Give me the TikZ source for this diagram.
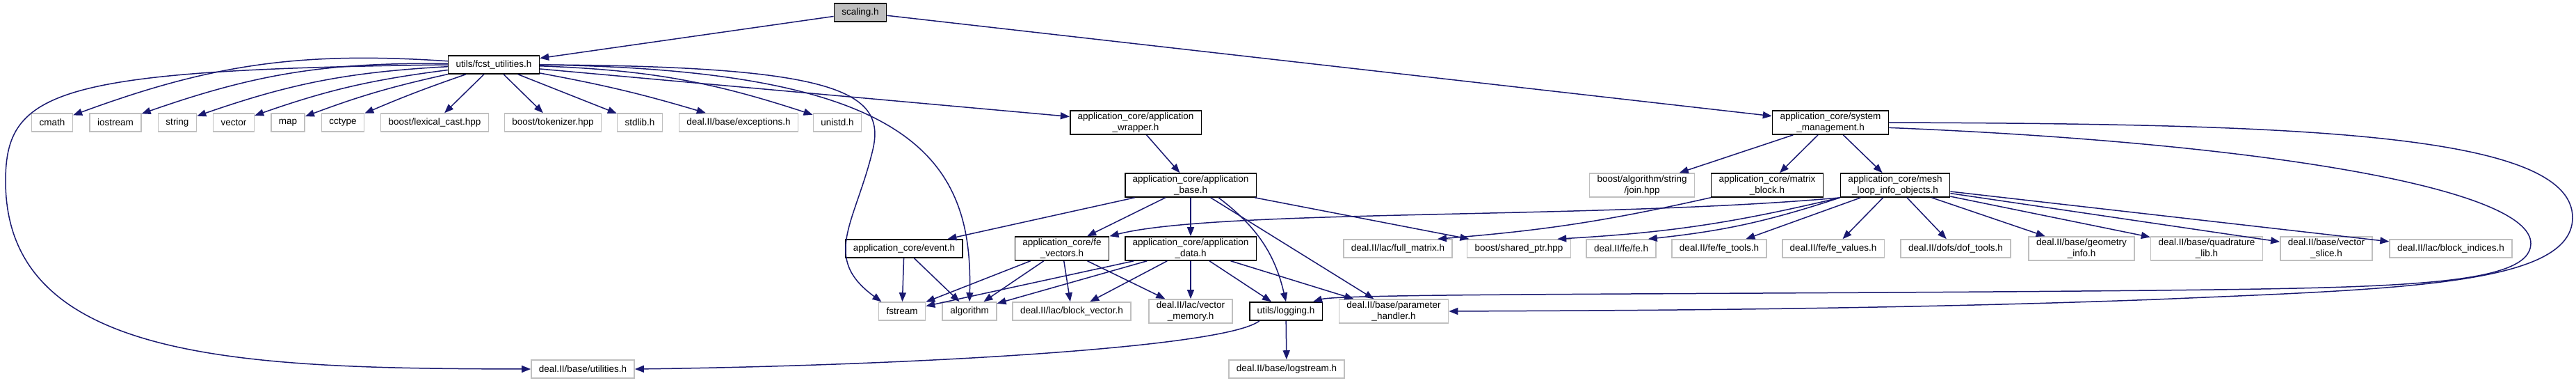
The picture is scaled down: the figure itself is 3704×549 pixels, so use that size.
\documentclass[tikz,border=0pt]{standalone}
\usepackage{fontspec}
\setmainfont{Liberation Sans}
\usetikzlibrary{arrows.meta}
\definecolor{edgeblue}{RGB}{25,25,112}
\definecolor{boxgray}{RGB}{191,191,191}
\newcommand\nodefont{\fontsize{13.5}{15.5}\selectfont}
\tikzset{
  incl/.style={draw=edgeblue, line width=1.5pt, -{Triangle[length=13pt,width=10pt]}},
  extfile/.style={draw=boxgray, line width=1.6pt, fill=white, inner xsep=11pt, inner ysep=3pt,
                  minimum height=26pt, align=center, font=\nodefont},
  docfile/.style={extfile, draw=black}
}
\begin{document}
\begin{tikzpicture}[x=1pt, y=-1pt]
  \useasboundingbox (0,0) rectangle (3704,549);
  % files of the project
  \node[docfile, fill=boxgray] (scaling) at (1237,18) {scaling.h};
  \node[docfile] (fcst) at (710,93) {utils/fcst\_utilities.h};
  \node[docfile] (wrapper) at (1633,176) {application\_core/application\\\_wrapper.h};
  \node[docfile] (sysmgmt) at (2632,176) {application\_core/system\\\_management.h};
  \node[docfile] (appbase) at (1712,266) {application\_core/application\\\_base.h};
  \node[docfile] (matblock) at (2541,266) {application\_core/matrix\\\_block.h};
  \node[docfile] (meshloop) at (2725,266) {application\_core/mesh\\\_loop\_info\_objects.h};
  \node[docfile] (event) at (1300,357) {application\_core/event.h};
  \node[docfile] (fevectors) at (1527,357) {application\_core/fe\\\_vectors.h};
  \node[docfile] (appdata) at (1712,357) {application\_core/application\\\_data.h};
  \node[docfile] (logging) at (1849,447) {utils/logging.h};
  % outside headers
  \foreach \name/\x/\txt in {cmath/75/cmath, iostream/166/iostream, string/255/string,
      vector/336/vector, map/414/map, cctype/493/cctype, lexcast/625/{boost/lexical\_cast.hpp},
      tokenizer/795/{boost/tokenizer.hpp}, stdlib/920/stdlib.h,
      exceptions/1062/{deal.II/base/exceptions.h}, unistd/1204/unistd.h}
    \node[extfile] (\name) at (\x,176) {\txt};
  \node[extfile] (joinhpp) at (2361,266) {boost/algorithm/string\\/join.hpp};
  \foreach \name/\x/\txt in {fullmatrix/2010/{deal.II/lac/full\_matrix.h},
      sharedptr/2184/{boost/shared\_ptr.hpp}, feh/2331/{deal.II/fe/fe.h},
      fetools/2472/{deal.II/fe/fe\_tools.h}, fevalues/2636/{deal.II/fe/fe\_values.h},
      doftools/2812/{deal.II/dofs/dof\_tools.h}, geominfo/2993/{deal.II/base/geometry\\\_info.h},
      quadlib/3173/{deal.II/base/quadrature\\\_lib.h}, vecslice/3345/{deal.II/base/vector\\\_slice.h},
      blockind/3524/{deal.II/lac/block\_indices.h}}
    \node[extfile] (\name) at (\x,357) {\txt};
  \foreach \name/\x/\txt in {fstream/1297/fstream, algorithm/1394/algorithm,
      blockvec/1541/{deal.II/lac/block\_vector.h}, vecmem/1712/{deal.II/lac/vector\\\_memory.h},
      paramhandler/2004/{deal.II/base/parameter\\\_handler.h}}
    \node[extfile] (\name) at (\x,447) {\txt};
  \node[extfile] (utilities) at (838,530) {deal.II/base/utilities.h};
  \node[extfile] (logstream) at (1850,530) {deal.II/base/logstream.h};

  % includes
  \foreach \name/\b in {cmath/12, iostream/10, string/8, vector/6, map/4, cctype/2, lexcast/0,
      tokenizer/0, stdlib/0, exceptions/-3, unistd/-8}
    \draw[incl] (fcst) to[bend right=\b] (\name);
  \foreach \src/\dst in {scaling/fcst, scaling/sysmgmt, fcst/wrapper, wrapper/appbase,
      sysmgmt/joinhpp, sysmgmt/matblock, sysmgmt/meshloop, appbase/event, appbase/fevectors,
      appbase/appdata, appbase/sharedptr, appbase/paramhandler, event/fstream, event/algorithm,
      fevectors/fstream, fevectors/algorithm, fevectors/blockvec, fevectors/vecmem,
      appdata/fstream, appdata/algorithm, appdata/blockvec, appdata/vecmem, appdata/logging,
      appdata/paramhandler, logging/logstream, meshloop/fetools, meshloop/fevalues,
      meshloop/doftools, meshloop/geominfo, meshloop/quadlib, meshloop/vecslice, meshloop/blockind}
    \draw[incl] (\src) -- (\dst);
  \draw[incl] (fcst.west) .. controls (80,100) and (8,130) .. (8,260)
    .. controls (8,520) and (350,529) .. (utilities.west);
  \draw[incl] (fcst.east) .. controls (1200,95) and (1275,130) .. (1255,215)
    .. controls (1230,320) and (1180,370) .. (fstream.155);
  \draw[incl] (fcst.east) .. controls (1300,100) and (1400,220) .. (algorithm.north);
  \draw[incl] ([xshift=40pt]appbase.south) to[bend left=20] (logging.north);
  \draw[incl] ([xshift=15pt]logging.south west) .. controls (1760,500) and (1300,525) .. (utilities.east);
  \draw[incl] (matblock.south west) to[bend left=4] ([xshift=-22pt]fullmatrix.north east);
  \draw[incl] (meshloop.south west) .. controls (2300,315) and (1750,300) .. (fevectors.north east);
  \draw[incl] (meshloop.south west) to[bend left=5] ([xshift=-20pt]sharedptr.north east);
  \draw[incl] (meshloop.south west) to[bend left=6] ([xshift=-12pt]feh.north east);
  \draw[incl] (sysmgmt.east) .. controls (3300,178) and (3700,190) .. (3699,313)
    .. controls (3698,410) and (3450,415) .. (3100,430)
    .. controls (2700,445) and (2300,446) .. (paramhandler.east);
  \draw[incl] (sysmgmt.-5) .. controls (3250,205) and (3640,270) .. (3639,350)
    .. controls (3638,410) and (3450,413) .. (3100,417)
    .. controls (2500,423) and (1930,421) .. ([xshift=-14pt]logging.north east);
\end{tikzpicture}
\end{document}
